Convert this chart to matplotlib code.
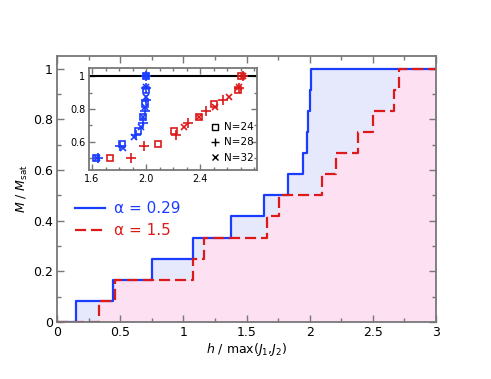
import matplotlib
matplotlib.use("Agg")
import matplotlib.pyplot as plt
from matplotlib.ticker import MultipleLocator, FixedLocator, FormatStrFormatter

# magnetization steps, main panel
h_blue = [0, 0.148, 0.446, 0.755, 1.074, 1.378, 1.64, 1.83, 1.945, 1.98, 1.99, 2.0, 2.01, 3.0]
m_blue = [0, 0.083, 0.167, 0.25, 0.333, 0.417, 0.5, 0.583, 0.667, 0.75, 0.833, 0.917, 1.0, 1.0]
h_red = [0, 0.335, 0.462, 1.08, 1.166, 1.665, 1.757, 2.096, 2.21, 2.38, 2.50, 2.67, 2.705, 3.0]
m_red = [0, 0.083, 0.167, 0.25, 0.333, 0.417, 0.5, 0.583, 0.667, 0.75, 0.833, 0.917, 1.0, 1.0]

# inset: critical fields for different N
b24_h = [1.63, 1.82, 1.94, 1.98, 1.995, 2.0, 2.0]
b24_m = [0.5, 0.583, 0.667, 0.75, 0.833, 0.917, 1.0]
b28_h = [1.645, 1.81, 1.925, 1.975, 1.99, 2.0, 2.0, 2.0]
b28_m = [0.5, 0.571, 0.643, 0.714, 0.786, 0.857, 0.929, 1.0]
b32_h = [1.64, 1.83, 1.91, 1.96, 1.98, 1.99, 2.0, 2.0, 2.0]
b32_m = [0.5, 0.5625, 0.625, 0.6875, 0.75, 0.8125, 0.875, 0.9375, 1.0]
r24_h = [1.735, 2.09, 2.205, 2.39, 2.505, 2.68, 2.705]
r24_m = [0.5, 0.583, 0.667, 0.75, 0.833, 0.917, 1.0]
r28_h = [1.89, 1.985, 2.225, 2.31, 2.445, 2.57, 2.69, 2.715]
r28_m = [0.5, 0.571, 0.643, 0.714, 0.786, 0.857, 0.929, 1.0]
r32_h = [2.28, 2.395, 2.51, 2.615, 2.69, 2.715]
r32_m = [0.6875, 0.75, 0.8125, 0.875, 0.9375, 1.0]

blue = "#1a3cff"
red = "#dd1a1a"
grey = "#777777"


def style_axes(ax, size):
    for s in ax.spines.values():
        s.set_color(grey)
        s.set_linewidth(1.3)
    ax.tick_params(which="both", direction="in", top=True, right=True,
                   color=grey, labelsize=size, pad=3)
    ax.tick_params(which="major", length=5, width=1)
    ax.tick_params(which="minor", length=3, width=1)


fig = plt.figure(figsize=(4.91, 3.79), dpi=100)
ax = fig.add_axes([0.1161, 0.1504, 0.7719, 0.7018])

ax.fill_between(h_blue, m_blue, step="post", color="#e6e8fc", lw=0)
ax.fill_between(h_red, m_red, step="post", color="#fde0f1", lw=0)
ax.step(h_blue, m_blue, where="post", color=blue, lw=1.6, label="α = 0.29")
ax.step(h_red, m_red, where="post", color=red, lw=1.6, dashes=(5, 2.2), label="α = 1.5")

ax.set_xlim(0, 3)
ax.set_ylim(0, 1.05)
ax.xaxis.set_major_locator(MultipleLocator(0.5))
ax.xaxis.set_minor_locator(MultipleLocator(0.25))
ax.yaxis.set_major_locator(MultipleLocator(0.2))
ax.yaxis.set_minor_locator(MultipleLocator(0.1))
ax.xaxis.set_major_formatter(FormatStrFormatter("%g"))
ax.yaxis.set_major_formatter(FormatStrFormatter("%g"))
style_axes(ax, 9)
ax.set_xlabel(r"$h$ / max($J_1$,$J_2$)", fontsize=9, labelpad=1)
ax.set_ylabel(r"$M$ / $M_{\rm sat}$", fontsize=9, labelpad=2)

leg = ax.legend(loc="upper left", bbox_to_anchor=(0.01, 0.505), frameon=False,
                fontsize=11, handlelength=2.0, handletextpad=0.6,
                labelspacing=0.45, labelcolor="linecolor")

# inset
ins = fig.add_axes([0.1819, 0.5515, 0.341, 0.2683])
ins.axhline(1.0, color="black", lw=1.5)
ins.plot(b24_h, b24_m, "s", color=blue, mfc="none", ms=5, mew=1.2)
ins.plot(b28_h, b28_m, "+", color=blue, ms=7, mew=1.2)
ins.plot(b32_h, b32_m, "x", color=blue, ms=5, mew=1.2)
ins.plot(r24_h, r24_m, "s", color=red, mfc="none", ms=5, mew=1.2)
ins.plot(r28_h, r28_m, "+", color=red, ms=7, mew=1.2)
ins.plot(r32_h, r32_m, "x", color=red, ms=5, mew=1.2)
ins.plot([], [], "s", color="black", mfc="none", ms=5, mew=1.0, label="N=24")
ins.plot([], [], "+", color="black", ms=6, mew=1.0, label="N=28")
ins.plot([], [], "x", color="black", ms=4, mew=1.0, label="N=32")

ins.set_xlim(1.58, 2.82)
ins.set_ylim(0.425, 1.05)
ins.xaxis.set_major_locator(FixedLocator([1.6, 2.0, 2.4]))
ins.xaxis.set_minor_locator(MultipleLocator(0.1))
ins.yaxis.set_major_locator(MultipleLocator(0.2))
ins.yaxis.set_minor_locator(MultipleLocator(0.1))
ins.xaxis.set_major_formatter(FormatStrFormatter("%.1f"))
ins.yaxis.set_major_formatter(FormatStrFormatter("%g"))
style_axes(ins, 7)
ins.tick_params(which="major", length=4)
ins.tick_params(which="minor", length=2)
ins.legend(loc="lower right", bbox_to_anchor=(1.04, -0.02), frameon=False, fontsize=7.5,
           handlelength=1.0, handletextpad=0.4, labelspacing=0.5)

fig.savefig("out.png", dpi=100)
